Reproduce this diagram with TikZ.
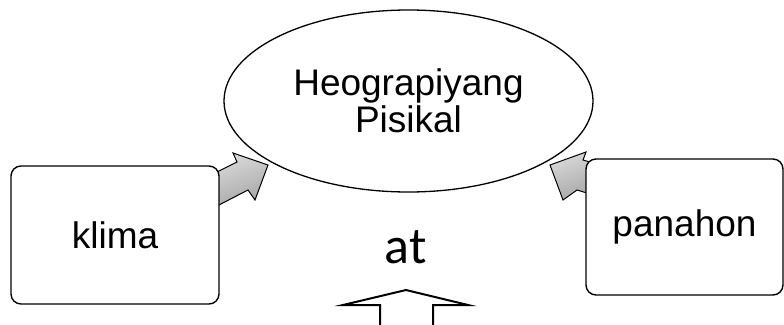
\documentclass[tikz,border=0pt]{standalone}
\usepackage{fontspec}
\setmainfont{Liberation Sans}
\newfontfamily\calib{Carlito}
\usetikzlibrary{shapes.geometric}
\begin{document}
\begin{tikzpicture}[x=1pt,y=-1pt,
  txt/.style={font=\fontsize{37}{37}\selectfont},
  boxnode/.style={draw=black, line width=1.4pt, rounded corners=10pt, fill=white, txt},
  blockarrow/.style={draw=black, line width=1pt, line join=miter, top color=gray!30, bottom color=gray!70, shading angle=20},
  hollow/.style={draw=black, line width=2pt, line join=miter}]
\useasboundingbox (0,0) rectangle (784,324);
\node[draw=black, line width=1.3pt, ellipse, minimum width=369pt, minimum height=182pt, inner sep=0pt, align=center, txt] (geo) at (408.5,101) {Heograpiyang\\Pisikal};
% left block arrow
\draw[blockarrow] (217,172) -- (237,162) -- (233,153) -- (268,165) -- (255,200) -- (248,190) -- (217,206) -- cycle;
% right block arrow
\draw[blockarrow] (600,165) -- (583,160) -- (586,152) -- (550,165) -- (563,200) -- (577,190) -- (600,197) -- cycle;
\node[boxnode, minimum width=208pt, minimum height=138pt] (klima) at (115,235) {klima};
\node[boxnode, minimum width=197pt, minimum height=136pt] (panahon) at (684.5,227) {panahon};
\node[font=\calib\fontsize{52}{54}\selectfont, anchor=base, inner sep=0pt] (at) at (405.5,263) {at};
\coordinate (bl) at (380,325);
\coordinate (br) at (433,325);
\draw[hollow] (bl) -- (380,305) -- (343,305) -- (406,290) -- (468,305) -- (433,305) -- (br);
\end{tikzpicture}
\end{document}
